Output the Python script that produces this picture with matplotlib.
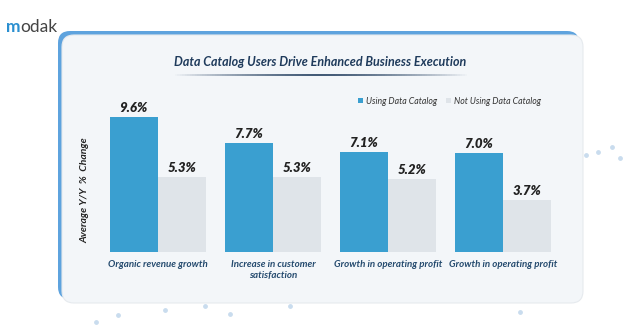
import matplotlib.pyplot as plt
import numpy as np
from matplotlib.patches import FancyBboxPatch
from matplotlib.collections import LineCollection

plt.rcParams['font.family'] = ['Lato', 'DejaVu Sans']

categories = ['Organic revenue growth', 'Increase in customer\nsatisfaction',
              'Growth in operating profit', 'Growth in operating profit']
using_catalog = [9.6, 7.7, 7.1, 7.0]
not_using_catalog = [5.3, 5.3, 5.2, 3.7]
series_names = ['Using Data Catalog', 'Not Using Data Catalog']

blue = '#3a9fd0'
grey = '#dfe4e9'
navy = '#244a6e'

fig = plt.figure(figsize=(6.4, 3.34), dpi=100)

# background layer in pixel coordinates
bg = fig.add_axes([0, 0, 1, 1])
bg.set_xlim(0, 640)
bg.set_ylim(334, 0)
bg.axis('off')

bg.add_patch(FancyBboxPatch((58, 31), 521, 268, boxstyle='round,pad=0,rounding_size=12',
                            fc='#5ea3de', ec='none'))
bg.add_patch(FancyBboxPatch((62, 35), 521, 268, boxstyle='round,pad=0,rounding_size=12',
                            fc='#f3f6f9', ec='#e6eaee', lw=0.8))

# logo
bg.text(6, 32, 'm', color='#2a8fd0', fontsize=12.5, fontweight='bold', va='baseline')
bg.text(20, 32, 'odak', color='#444444', fontsize=12.5, va='baseline')

# title with gradient underline
bg.text(320, 62, 'Data Catalog Users Drive Enhanced Business Execution', ha='center',
        va='center', fontsize=9, fontweight='bold', fontstyle='italic', color='#1f3b5c')
xs = np.linspace(172, 470, 120)
segs = [[(xs[i], 75), (xs[i + 1], 75)] for i in range(len(xs) - 1)]
alphas = 1 - np.abs(np.linspace(-1, 1, len(segs))) ** 1.5
lc = LineCollection(segs, colors=[(0.12, 0.23, 0.36, a) for a in alphas], linewidths=1.2)
bg.add_collection(lc)

# a few decorative dots
dot_x = [586, 598, 612, 620, 96, 118, 165, 205, 230, 290, 520]
dot_y = [155, 152, 147, 158, 322, 315, 310, 306, 314, 306, 312]
bg.scatter(dot_x, dot_y, s=6, color='#c9dcee', zorder=0)

# chart
ax = fig.add_axes([0.157, 0.2455, 0.719, 0.455])
ax.set_facecolor('none')
x = np.arange(len(categories))
w = 0.42
b1 = ax.bar(x - w / 2, using_catalog, w, color=blue, label=series_names[0])
b2 = ax.bar(x + w / 2, not_using_catalog, w, color=grey, label=series_names[1])
for bars, vals in ((b1, using_catalog), (b2, not_using_catalog)):
    for r, v in zip(bars, vals):
        ax.text(r.get_x() + r.get_width() / 2, v + 0.22, f'{v:.1f}%', ha='center', va='bottom',
                fontsize=9.5, fontweight='heavy', fontstyle='italic', color='#222222')

ax.set_xlim(-0.5, 3.5)
ax.set_ylim(0, 10.78)
ax.set_xticks(x)
ax.set_xticklabels(categories, fontsize=7, fontweight='bold', fontstyle='italic', color=navy)
ax.tick_params(axis='x', length=0, pad=6)
ax.set_yticks([])
for s in ax.spines.values():
    s.set_visible(False)
ax.set_ylabel('Average Y/Y  %  Change', fontsize=7.5, fontweight='bold', fontstyle='italic',
              color='#222222')
ax.yaxis.set_label_coords(-0.023, 0.41)

ax.legend(loc='upper right', bbox_to_anchor=(0.975, 1.075), ncol=2, frameon=False,
          handlelength=0.55, handleheight=0.55, handletextpad=0.4, columnspacing=1.0,
          prop={'style': 'italic', 'size': 6.3}, labelcolor='#333333')

fig.savefig('out.png', dpi=100)
